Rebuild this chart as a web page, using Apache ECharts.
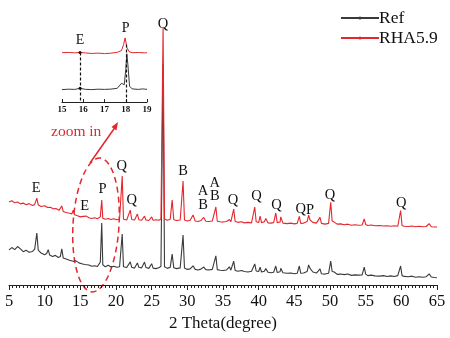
<!DOCTYPE html>
<html>
<head>
<meta charset="utf-8">
<script src="https://cdn.jsdelivr.net/npm/echarts@6/dist/echarts.min.js"></script>
<style>
  html, body { margin: 0; padding: 0; background: #fff; }
  #chart { width: 450px; height: 338px; }
</style>
</head>
<body>
<div id="chart"></div>
<script>
// main pattern, [2 theta, intensity]
const refData = [[5,13.5],[5.4,14.4],[5.8,13.6],[6.2,14.8],[6.6,13.9],[7,12.8],[7.4,13.4],[7.8,12.6],[8.3,12.9],[8.6,13.8],[8.9,20],[9.1,13.4],[9.5,12.3],[10,11.6],[10.3,12.2],[10.5,13.6],[10.7,11.5],[11.1,11],[11.5,11.4],[11.9,10.6],[12.2,11],[12.4,13.9],[12.6,10.4],[13,10],[13.5,9.5],[14,9.1],[14.4,9.3],[14.8,8.5],[15.2,8.2],[15.6,7.9],[15.85,8.3],[16.2,7.7],[16.6,7.2],[17,7.4],[17.4,7.1],[17.8,8.8],[17.9,8.2],[18,23.8],[18.15,7.8],[18.5,7],[18.9,7.6],[19.3,6.9],[19.7,7.2],[20.1,6.8],[20.5,7],[20.87,19.6],[21.05,7],[21.5,6.7],[22,8.9],[22.2,6.8],[22.6,6.5],[23,8.5],[23.2,6.8],[23.6,6.6],[24,8.8],[24.2,6.7],[24.6,6.4],[25,8.2],[25.2,6.5],[25.6,6.3],[26,6.6],[26.3,7.2],[26.6,85],[26.8,7],[27.2,6.4],[27.6,6.8],[27.87,11.9],[28.1,6.6],[28.5,6.3],[29,6.6],[29.2,6.9],[29.4,19.2],[29.6,6.5],[30,6],[30.4,6.2],[30.8,7.4],[31.1,6],[31.5,5.8],[31.9,6.1],[32.3,6.9],[32.6,5.9],[33,5.8],[33.5,6],[34,11.2],[34.2,5.9],[34.6,5.7],[35,5.6],[35.5,5.8],[35.9,7],[36.1,5.7],[36.5,9.2],[36.7,5.6],[37.1,5.3],[37.6,5.6],[38,5.2],[38.5,5],[39,5.3],[39.45,8.1],[39.65,5.4],[40,5.2],[40.2,6.9],[40.4,5],[40.8,5.3],[41,6.3],[41.3,4.9],[41.7,4.7],[42.1,4.9],[42.4,7.3],[42.6,4.8],[43,5.1],[43.1,6.4],[43.4,4.7],[44,4.5],[44.5,4.6],[45,4.3],[45.4,4.5],[45.7,7.3],[45.9,4.5],[46.3,4.6],[46.8,5.2],[47,7.7],[47.2,6.4],[47.6,5],[48.1,4.6],[48.6,6.2],[48.8,4.3],[49.3,4.2],[49.8,4.5],[50.1,9.2],[50.3,5.2],[50.6,5],[51,4.1],[51.5,4.2],[52,4],[52.5,4.2],[53,3.7],[53.5,3.9],[54,3.8],[54.5,3.9],[54.8,6.9],[55,4.2],[55.3,3.6],[55.8,3.8],[56.3,3.5],[57,3.4],[57.5,3.6],[58,3.3],[58.5,3.5],[59,3.3],[59.5,3.6],[59.9,7.3],[60.1,3.6],[60.4,3.3],[61,3.2],[61.5,3.4],[62,3],[62.5,3.2],[63,3],[63.5,3.2],[63.9,4.3],[64.2,3.1],[64.6,2.9],[65,2.8]];

const rhaData = [[5,31.9],[5.4,32.4],[5.8,31.6],[6.2,31.9],[6.6,31.2],[7,31.5],[7.4,30.9],[7.8,31.3],[8.3,30.6],[8.6,31],[8.9,33.4],[9.1,30.8],[9.5,30.2],[10,30.5],[10.4,29.8],[10.8,29.9],[11.2,29.3],[11.6,29.4],[12,28.7],[12.4,30.4],[12.6,28.3],[13,27.9],[13.5,27.6],[13.8,27.3],[14,28.8],[14.2,27],[14.6,26.6],[15,26.2],[15.4,26.4],[15.85,26.5],[16.2,25.9],[16.6,25.6],[17,25.9],[17.4,25.5],[17.8,26.2],[17.9,25.9],[18,32.7],[18.15,25.7],[18.5,25.3],[18.9,25.6],[19.3,25.2],[19.7,25.5],[20.1,25.1],[20.5,25.4],[20.87,41.9],[21.05,25.3],[21.5,25],[22,28.8],[22.2,25.2],[22.6,25],[23,27.3],[23.2,25.1],[23.6,24.9],[24,26.5],[24.2,25],[24.6,24.8],[25,26.2],[25.2,24.9],[25.6,25.1],[26,24.9],[26.3,25.4],[26.6,98.8],[26.8,25.4],[27.2,24.9],[27.6,25.3],[27.87,32.7],[28.1,25.1],[28.5,24.8],[29,25],[29.2,25.3],[29.4,40],[29.6,25],[30,24.6],[30.4,24.9],[30.8,26.9],[31.1,24.6],[31.5,24.4],[31.9,24.8],[32.3,26],[32.6,24.5],[33,24.4],[33.5,24.6],[34,30],[34.2,24.5],[34.6,24.3],[35,24.2],[35.5,24.4],[35.9,25.2],[36.1,24.3],[36.5,29.2],[36.7,24.4],[37.1,24.1],[37.6,24.3],[38,23.9],[38.5,24.1],[39,23.9],[39.45,30],[39.65,24.3],[40,24],[40.2,26.5],[40.4,24],[40.8,24.3],[41,25.6],[41.3,23.9],[41.7,23.8],[42.1,24],[42.4,27.7],[42.6,24],[43,24.2],[43.1,26.2],[43.4,23.8],[44,23.6],[44.5,23.8],[45,23.5],[45.4,23.7],[45.7,26.4],[45.9,23.7],[46.3,23.8],[46.8,24.4],[47,26.9],[47.2,25],[47.6,24.1],[48.1,23.8],[48.6,26],[48.8,23.7],[49.3,23.4],[49.8,23.7],[50.1,31.8],[50.3,24.6],[50.6,24.2],[51,23.4],[51.5,23.5],[52,23.2],[52.5,23.4],[53,23],[53.5,23.2],[54,23],[54.5,23.1],[54.8,25.4],[55,23.3],[55.3,22.9],[55.8,23.1],[56.3,22.8],[57,22.9],[57.5,22.7],[58,22.8],[58.5,22.6],[59,22.8],[59.5,22.6],[59.9,28.6],[60.1,22.9],[60.4,22.6],[61,22.5],[61.5,22.7],[62,22.4],[62.5,22.6],[63,22.4],[63.5,22.5],[63.9,23.6],[64.2,22.4],[64.6,22.3],[65,22.3]];

// phase labels: [2 theta, height, name]
const peakLabels = [[8.8,37.3,'E'],[15.6,30.4,'E'],[18.1,36.8,'P'],[20.8,45.8,'Q'],[22.2,32.7,'Q'],[26.6,100.4,'Q'],[29.4,43.6,'B'],[32.2,35.9,'A'],[32.2,30.8,'B'],[33.85,39.1,'A'],[33.85,34,'B'],[36.4,32.7,'Q'],[39.7,34,'Q'],[42.5,30.8,'Q'],[45.9,29.1,'Q'],[47.2,28.6,'P'],[50,34.6,'Q'],[60,31.4,'Q']];

// zoomed region 15-19 deg
const insetRef = [[15,17.2],[15.3,17.8],[15.6,17.5],[15.85,19],[16.1,17.6],[16.4,17.2],[16.7,17.8],[17,17.5],[17.3,17.9],[17.6,19],[17.8,26],[17.87,28],[17.93,24],[18,45],[18.05,67],[18.1,52],[18.18,22],[18.3,18.2],[18.6,17.5],[18.8,18.2],[18.85,20],[18.9,17.8],[19,17.6]];
const insetRha = [[15,68.5],[15.3,68.8],[15.6,68.3],[15.85,68.8],[16.1,68.2],[16.4,67.4],[16.7,67.9],[17,67.2],[17.3,67.8],[17.6,69],[17.8,71.5],[17.9,80],[17.97,89],[18.05,76],[18.15,70],[18.3,68.4],[18.6,68.8],[18.9,68.2],[19,68.5]];
const insetLabels = [[15.85,86,'E'],[18,102.5,'P']];

const RED = '#e5262d';
const DARK = '#3a3a3a';
const SERIF = '"Liberation Serif", "DejaVu Serif", serif';

const chart = echarts.init(document.getElementById('chart'));

const labelPoints = (list, size) => list.map(p => ({
  coord: [p[0], p[1]],
  name: p[2],
  symbol: 'circle',
  symbolSize: 1,
  itemStyle: { color: 'rgba(0,0,0,0)' },
  label: {
    show: true, position: 'inside', formatter: '{b}',
    color: '#111', fontFamily: SERIF, fontSize: size
  }
}));

const option = {
  animation: false,
  backgroundColor: '#fff',
  legend: {
    orient: 'vertical',
    left: 335,
    top: 4,
    itemWidth: 38,
    itemHeight: 4,
    itemGap: 2,
    data: ['Ref', 'RHA5.9'],
    textStyle: { fontFamily: SERIF, fontSize: 17.5, color: '#111', padding: [0, 0, 0, -5] }
  },
  grid: [
    { left: 9, right: 13, top: 9.4, bottom: 53 },
    { left: 62, width: 85, top: 22.8, bottom: 236 }
  ],
  xAxis: [
    {
      gridIndex: 0, type: 'value', min: 5, max: 65, interval: 5,
      name: '2 Theta(degree)', nameLocation: 'middle', nameGap: 29,
      nameTextStyle: { fontFamily: SERIF, fontSize: 17, color: '#111' },
      axisLine: { lineStyle: { color: '#222', width: 1 } },
      axisTick: { length: 5, lineStyle: { color: '#222' } },
      minorTick: { show: true, splitNumber: 10, length: 3, lineStyle: { color: '#222' } },
      axisLabel: { fontFamily: SERIF, fontSize: 16.5, color: '#111', margin: 8 },
      splitLine: { show: false }
    },
    {
      gridIndex: 1, type: 'value', min: 15, max: 19, interval: 1,
      axisLine: { lineStyle: { color: '#222', width: 1.2 } },
      axisTick: { inside: true, length: 3, lineStyle: { color: '#222' } },
      axisLabel: { fontFamily: SERIF, fontSize: 9, fontWeight: 'bold', color: '#111', margin: 3 },
      splitLine: { show: false }
    }
  ],
  yAxis: [
    { gridIndex: 0, type: 'value', min: 0, max: 106, show: false },
    { gridIndex: 1, type: 'value', min: 0, max: 110, show: false }
  ],
  series: [
    {
      name: 'Ref', type: 'line', data: refData,
      xAxisIndex: 0, yAxisIndex: 0,
      symbol: 'circle', showSymbol: false,
      itemStyle: { color: DARK },
      lineStyle: { color: DARK, width: 1.1 }
    },
    {
      name: 'RHA5.9', type: 'line', data: rhaData,
      xAxisIndex: 0, yAxisIndex: 0,
      symbol: 'circle', showSymbol: false,
      itemStyle: { color: RED },
      lineStyle: { color: RED, width: 1.1 },
      markPoint: { data: labelPoints(peakLabels, 14.5) }
    },
    {
      type: 'line', data: insetRef,
      xAxisIndex: 1, yAxisIndex: 1,
      showSymbol: false,
      lineStyle: { color: DARK, width: 1 },
      markLine: {
        silent: true, symbol: 'none',
        lineStyle: { color: '#111', type: [3, 2], width: 1.2 },
        label: { show: false },
        data: [
          [{ coord: [15.85, 68.8] }, { coord: [15.85, 0] }],
          [{ coord: [18.02, 80] }, { coord: [18.02, 0] }]
        ]
      },
      markPoint: {
        data: labelPoints(insetLabels, 14).concat([
          { coord: [15.85, 68.8], symbol: 'circle', symbolSize: 3, itemStyle: { color: '#111' }, label: { show: false } },
          { coord: [15.85, 19], symbol: 'circle', symbolSize: 3, itemStyle: { color: '#111' }, label: { show: false } }
        ])
      }
    },
    {
      type: 'line', data: insetRha,
      xAxisIndex: 1, yAxisIndex: 1,
      showSymbol: false,
      lineStyle: { color: RED, width: 1 }
    }
  ],
  graphic: [
    {
      type: 'text', left: 51, top: 124,
      style: { text: 'zoom in', fill: RED, font: '15.5px ' + SERIF }
    },
    {
      type: 'line',
      shape: { x1: 90, y1: 163, x2: 116, y2: 126 },
      style: { stroke: RED, lineWidth: 1.5 }
    },
    {
      type: 'polygon',
      shape: { points: [[118, 122], [116.5, 130.4], [111.5, 127]] },
      style: { fill: RED }
    },
    {
      type: 'ellipse',
      x: 96, y: 225, rotation: -0.06,
      shape: { cx: 0, cy: 0, rx: 23, ry: 67 },
      style: { fill: 'none', stroke: RED, lineWidth: 1.5, lineDash: [6, 4] }
    }
  ]
};

chart.setOption(option);
</script>
</body>
</html>
